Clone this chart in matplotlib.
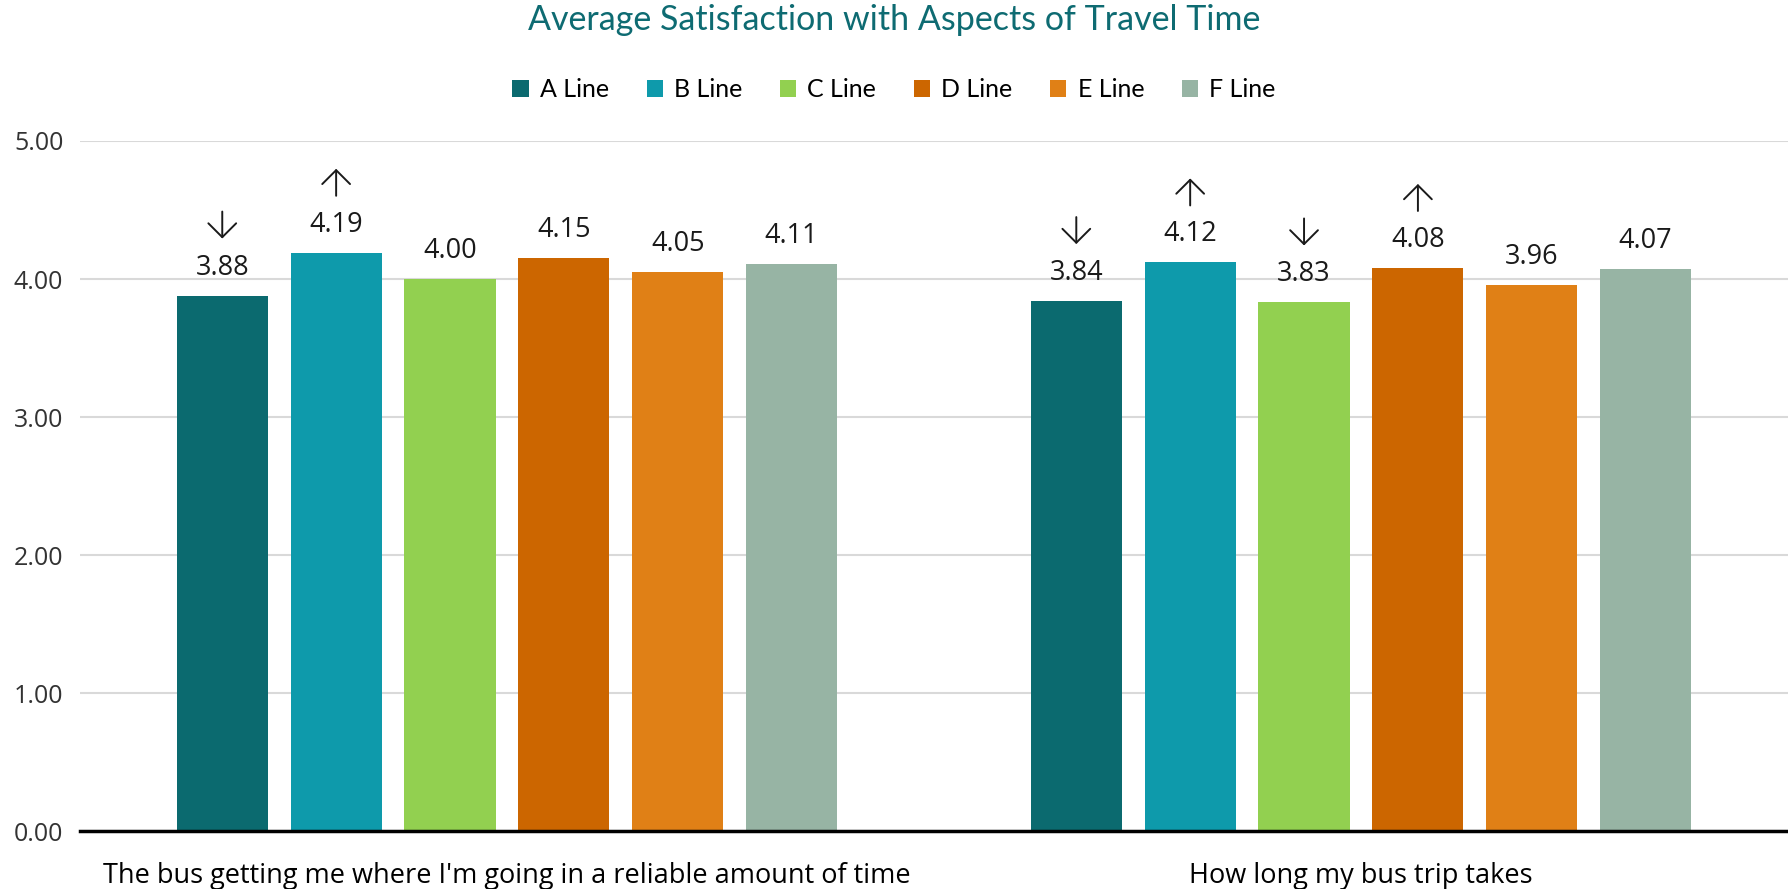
import numpy as np
import matplotlib.pyplot as plt
from matplotlib.transforms import offset_copy

plt.rcParams['font.family'] = ['Open Sans', 'DejaVu Sans']

# survey results per line, two questions
categories = ["The bus getting me where I'm going in a reliable amount of time",
              "How long my bus trip takes"]
lines = ["A Line", "B Line", "C Line", "D Line", "E Line", "F Line"]
reliable_time = [3.88, 4.19, 4.00, 4.15, 4.05, 4.11]
trip_length = [3.84, 4.12, 3.83, 4.08, 3.96, 4.07]
# significance markers: -1 lower, 1 higher, 0 none
reliable_sig = [-1, 1, 0, 0, 0, 0]
trip_sig = [-1, 1, -1, 1, 0, 0]

colors = ["#0B6A6F", "#0E9AAB", "#92D050", "#CC6600", "#E08016", "#97B4A4"]

values = np.array([reliable_time, trip_length]).T
sigs = np.array([reliable_sig, trip_sig]).T

fig = plt.figure(figsize=(17.88, 8.89), dpi=100)
ax = fig.add_axes([0.0447, 0.0652, 0.9553, 0.7762])

# pixel offsets above a bar top for the arrow ends
low_end = offset_copy(ax.transData, fig=fig, x=0, y=57, units='dots')
high_end = offset_copy(ax.transData, fig=fig, x=0, y=84, units='dots')

x = np.arange(len(categories))
slot = 0.8 / len(lines)
for i, (name, col) in enumerate(zip(lines, colors)):
    pos = x - 0.4 + slot * (i + 0.5)
    ax.bar(pos, values[i], width=slot * 0.8, color=col, label=name, zorder=3)
    for px, v, s in zip(pos, values[i], sigs[i]):
        ax.annotate(f"{v:.2f}", (px, v), xytext=(0, 21 * 0.72), textcoords="offset points",
                    ha="center", va="baseline", fontsize=19.5, color="#1a1a1a")
        if s != 0:
            tip, tail = (high_end, low_end) if s > 0 else (low_end, high_end)
            ax.annotate("", xy=(px, v), xycoords=tip, xytext=(px, v), textcoords=tail,
                        arrowprops=dict(arrowstyle="->,head_length=0.5,head_width=0.5",
                                        color="#1a1a1a", lw=1.4, mutation_scale=20,
                                        shrinkA=0, shrinkB=0))

ax.set_xlim(-0.5, 1.5)
ax.set_ylim(0, 5)
ticks = np.arange(0, 5.01, 1)
ax.set_yticks(ticks)
ax.set_yticklabels([f"{t:.2f}" for t in ticks], fontsize=18, color="#333333")
ax.set_xticks(x)
ax.set_xticklabels(categories, fontsize=19.5, color="black")
ax.tick_params(axis="both", length=0)
ax.tick_params(axis="x", pad=22)
ax.tick_params(axis="y", pad=12)
ax.grid(axis="y", color="#D9D9D9", linewidth=1.5, zorder=0)
for side in ["top", "right", "left"]:
    ax.spines[side].set_visible(False)
ax.spines["bottom"].set_linewidth(2.5)
ax.spines["bottom"].set_zorder(4)

fig.suptitle("Average Satisfaction with Aspects of Travel Time", y=0.995,
             fontsize=24.5, color="#0E6B72", family="Lato")
fig.legend(loc="center", bbox_to_anchor=(0.5, 0.899), ncol=6, frameon=False,
           prop={"family": "Lato", "size": 18}, handlelength=0.65, handleheight=0.65,
           handletextpad=0.45, columnspacing=1.5)

fig.savefig("out.png", dpi=100)
